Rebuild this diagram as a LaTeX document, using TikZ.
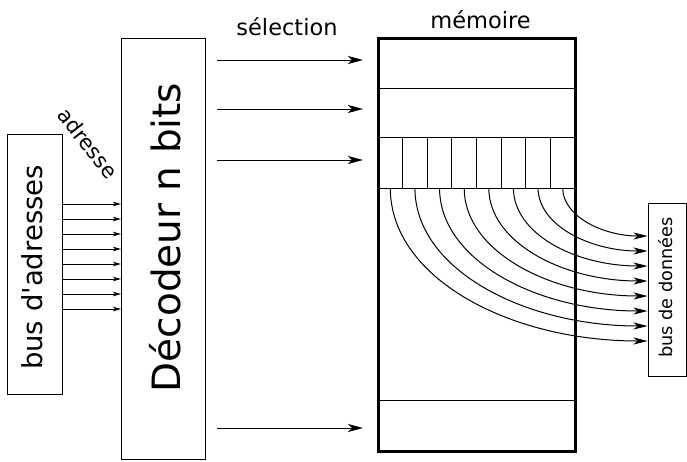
\documentclass[tikz,border=0pt]{standalone}
\usepackage{fontspec}
\setmainfont{DejaVu Sans}
\usetikzlibrary{arrows.meta,positioning}

\begin{document}
\begin{tikzpicture}[x=1pt,y=1pt]

\def\cellw{24.625}
\def\cellh{51}
\def\busx{648}

\tikzset{box/.style = {draw, line width=1pt, inner sep=0pt}}
\tikzset{cell/.style = {draw, line width=1pt, minimum width=\cellw pt, minimum height=\cellh pt, inner sep=0pt, outer sep=0pt}}
\tikzset{sel/.style = {line width=1pt, -{Stealth[length=15pt,width=8pt,inset=4pt]}}}
\tikzset{adr/.style = {line width=1pt, -{Stealth[length=8pt,width=4.5pt,inset=2pt]}}}
\tikzset{dat/.style = {line width=1pt, -{Stealth[length=14pt,width=7pt,inset=4pt]}}}

\useasboundingbox (0,0) rectangle (687,-461);

% bus d'adresses
\node[box, minimum width=54.5pt, minimum height=260pt] (BA) at (34.75,-264) {};
\node[rotate=90, font=\fontsize{27.5}{30}\selectfont] (BAT) at (32.5,-267.5) {bus d\textquotesingle adresses};

% decodeur
\node[box, minimum width=83.5pt, minimum height=421pt] (DEC) at (163.25,-248.5) {};
\node[rotate=90, font=\fontsize{39}{42}\selectfont] (DECT) at (165.5,-237.5) {Décodeur n bits};
\node[rotate=-52, font=\fontsize{21}{23}\selectfont] (ADR) at (88,-143) {adresse};

% memoire, les cases d'abord
\node[cell] (M1) at (390.3,-162.5) {};
\node[cell, right=0pt of M1] (M2) {};
\node[cell, right=0pt of M2] (M3) {};
\node[cell, right=0pt of M3] (M4) {};
\node[cell, right=0pt of M4] (M5) {};
\node[cell, right=0pt of M5] (M6) {};
\node[cell, right=0pt of M6] (M7) {};
\node[cell, right=0pt of M7] (M8) {};

\node[draw, line width=3pt, minimum width=197pt, minimum height=413pt, inner sep=0pt] (MEM) at (476.5,-244.5) {};
\draw[line width=1pt] (MEM.west |- 0,-88) -- (MEM.east |- 0,-88);
\draw[line width=1pt] (MEM.west |- 0,-400) -- (MEM.east |- 0,-400);

\node[font=\fontsize{22.5}{25}\selectfont] (SEL) at (287,-27) {sélection};
\node[font=\fontsize{22.5}{25}\selectfont] (MEMT) at (480.5,-20) {mémoire};

% bus de donnees
\node[box, minimum width=38pt, minimum height=173pt] (BD) at (667,-289.5) {};
\node[rotate=90, font=\fontsize{17.7}{20}\selectfont] (BDT) at (665.5,-287.5) {bus de données};

% lignes d'adresse
\draw[adr] (BA.east |- 0,-204) -- (DEC.west |- 0,-204);
\draw[adr] (BA.east |- 0,-219) -- (DEC.west |- 0,-219);
\draw[adr] (BA.east |- 0,-234) -- (DEC.west |- 0,-234);
\draw[adr] (BA.east |- 0,-249) -- (DEC.west |- 0,-249);
\draw[adr] (BA.east |- 0,-264) -- (DEC.west |- 0,-264);
\draw[adr] (BA.east |- 0,-279) -- (DEC.west |- 0,-279);
\draw[adr] (BA.east |- 0,-294) -- (DEC.west |- 0,-294);
\draw[adr] (BA.east |- 0,-309) -- (DEC.west |- 0,-309);

% lignes de selection
\coordinate (S1) at (217,-60);
\coordinate (S2) at (217,-109);
\coordinate (S3) at (217,-160);
\coordinate (S4) at (217,-428);
\coordinate (E1) at (363,-60);
\coordinate (E2) at (363,-109);
\coordinate (E3) at (363,-160);
\coordinate (E4) at (363,-428);
\draw[sel] (S1) -- (E1);
\draw[sel] (S2) -- (E2);
\draw[sel] (S3) -- (E3);
\draw[sel] (S4) -- (E4);

% sorties des cases
\draw[dat] (M1.south) .. controls +(0,-90) and +(-138,0) .. (BD.west |- 0,-341);
\draw[dat] (M2.south) .. controls +(0,-81) and +(-124,0) .. (BD.west |- 0,-326);
\draw[dat] (M3.south) .. controls +(0,-72) and +(-111,0) .. (BD.west |- 0,-311);
\draw[dat] (M4.south) .. controls +(0,-63) and +(-98,0) .. (BD.west |- 0,-296);
\draw[dat] (M5.south) .. controls +(0,-54) and +(-85,0) .. (BD.west |- 0,-281);
\draw[dat] (M6.south) .. controls +(0,-46) and +(-72,0) .. (BD.west |- 0,-266);
\draw[dat] (M7.south) .. controls +(0,-37) and +(-58,0) .. (BD.west |- 0,-251);
\draw[dat] (M8.south) .. controls +(0,-28) and +(-45,0) .. (BD.west |- 0,-236);

\end{tikzpicture}
\end{document}
